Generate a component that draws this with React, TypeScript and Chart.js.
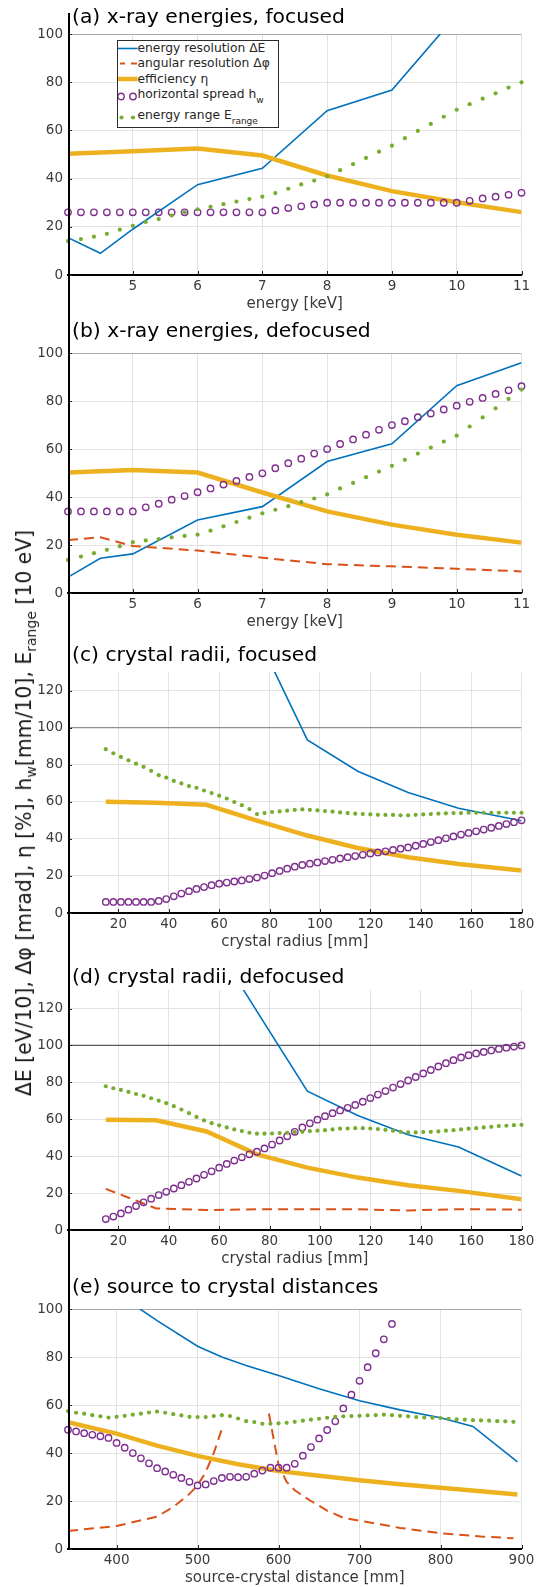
import React, { useEffect, useRef } from 'react';
import { Chart, registerables } from 'chart.js';

Chart.register(...registerables);

const FONT = "'DejaVu Sans', 'Liberation Sans', sans-serif";
const C_BLUE = '#0072BD';
const C_RED = '#D95319';
const C_YEL = '#EDB120';
const C_PUR = '#7E2F8E';
const C_GRN = '#77AC30';
const GRID = '#e2e2e2';
const TICK = '#3a3a3a';

// ---------- x positions ----------
const xEnergyLine = [4, 4.5, 5, 6, 7, 8, 9, 10, 11];
const xEnergyPts = [4, 4.2, 4.4, 4.6, 4.8, 5, 5.2, 5.4, 5.6, 5.8, 6, 6.2, 6.4, 6.6, 6.8, 7, 7.2, 7.4, 7.6, 7.8, 8, 8.2, 8.4, 8.6, 8.8, 9, 9.2, 9.4, 9.6, 9.8, 10, 10.2, 10.4, 10.6, 10.8, 11];
const xRadiusLine = [15, 35, 55, 75, 95, 115, 135, 155, 180];
const xRadiusPts = [15, 18, 21, 24, 27, 30, 33, 36, 39, 42, 45, 48, 51, 54, 57, 60, 63, 66, 69, 72, 75, 78, 81, 84, 87, 90, 93, 96, 99, 102, 105, 108, 111, 114, 117, 120, 123, 126, 129, 132, 135, 138, 141, 144, 147, 150, 153, 156, 159, 162, 165, 168, 171, 174, 177, 180];
const xDistBlue = [340, 400, 430, 450, 500, 530, 560, 600, 650, 700, 750, 800, 840, 895];
const xDistYel = [340, 400, 450, 500, 550, 600, 650, 700, 750, 800, 850, 895];
const xDistRed = [340, 400, 450, 470, 490, 500, 510, 520, 530, 560, 588, 600, 610, 620, 640, 660, 680, 700, 750, 800, 850, 890];
const xDistPur = [340, 350, 360, 370, 380, 390, 400, 410, 420, 430, 440, 450, 460, 470, 480, 490, 500, 510, 520, 530, 540, 550, 560, 570, 580, 590, 600, 610, 620, 630, 640, 650, 660, 670, 680, 690, 700, 710, 720, 730, 740];
const xDistGrn = [340, 350, 360, 370, 380, 390, 400, 410, 420, 430, 440, 450, 460, 470, 480, 490, 500, 510, 520, 530, 540, 550, 560, 570, 580, 590, 600, 610, 620, 630, 640, 650, 660, 670, 680, 690, 700, 710, 720, 730, 740, 750, 760, 770, 780, 790, 800, 810, 820, 830, 840, 850, 860, 870, 880, 890];

// ---------- tick labels ----------
const ticksEnergy = [5, 6, 7, 8, 9, 10, 11];
const ticksRadius = [20, 40, 60, 80, 100, 120, 140, 160, 180];
const ticksDist = [400, 500, 600, 700, 800, 900];
const ticksY100 = [0, 20, 40, 60, 80, 100];
const ticksY130 = [0, 20, 40, 60, 80, 100, 120];

// ---------- (a) x-ray energies, focused ----------
const aBlue = [15.5, 9, 19, 37.5, 44.3, 68.2, 76.8, 108, 140];
const aYel = [50.3, 50.8, 51.4, 52.5, 49.6, 41.3, 34.8, 30.2, 26.1];
const aPur = [26, 26, 26, 26, 26, 26, 26, 26, 26, 26, 26, 26, 26, 26, 26, 26, 26.8, 27.8, 28.5, 29.3, 30, 30, 30, 30, 30, 30, 30, 30, 30, 30, 30, 30.8, 31.8, 32.5, 33.3, 34.1];
const aGrn = [14.1, 14.9, 15.9, 17.1, 18.8, 20.4, 22, 23.2, 24.7, 26, 27.3, 28.3, 29.4, 30.5, 31.5, 32.5, 34, 35.8, 37.6, 39.2, 41, 43.5, 46, 48.6, 51.2, 53.7, 56.8, 59.8, 62.7, 65.7, 68.6, 70.9, 73.2, 75.4, 77.8, 80];

// ---------- (b) x-ray energies, defocused ----------
const bBlue = [6.6, 14.5, 16.3, 30.4, 36, 54.8, 62.2, 86.4, 96];
const bRed = [22.1, 23.2, 19.6, 17.7, 14.7, 12, 11.1, 10.1, 9];
const bYel = [50.2, 50.7, 51.3, 50.2, 41.9, 34, 28.5, 24.3, 21];
const bPur = [34, 34, 34, 34, 34, 34, 35.7, 37.2, 38.9, 40.4, 42, 43.6, 45.2, 46.7, 48.4, 49.9, 52, 54.1, 56, 58.1, 60, 62.1, 64, 66, 68, 70, 71.6, 73.3, 74.8, 76.5, 78.1, 79.7, 81.3, 83, 84.5, 86.2];
const bGrn = [13.8, 15.2, 16.6, 18, 19.5, 21.2, 21.9, 22.5, 23.2, 23.8, 24.3, 26, 27.8, 29.6, 31.4, 33.2, 34.7, 36.2, 37.9, 39.4, 41.1, 43.6, 45.9, 48.3, 50.6, 53, 55.5, 58.1, 60.6, 63.1, 65.6, 69.4, 73.2, 77, 80.9, 84.8];

// ---------- (c) crystal radii, focused ----------
const cBlue = [900, 450, 260, 150, 93.4, 76.5, 65, 56.5, 49.8];
const cYel = [60, 59.5, 58.4, 49.8, 41.8, 35.1, 30.1, 26.5, 22.9];
const cPur = [6, 6, 6, 6, 6, 6, 6, 6.5, 7.5, 9, 10.5, 11.8, 13, 14, 15, 15.8, 16.4, 17, 17.6, 18.3, 19.1, 20.2, 21.5, 22.7, 23.9, 25, 25.9, 26.6, 27.3, 28, 28.7, 29.4, 30.1, 30.7, 31.4, 32.1, 32.7, 33.3, 34, 34.7, 35.4, 36.3, 37.3, 38.3, 39.3, 40.3, 41.3, 42.3, 43.2, 44.1, 45, 46, 47, 48, 49, 50];
const cGrn = [88.4, 86.2, 84.2, 82.4, 80.6, 78.9, 76.7, 74.4, 73.1, 71.3, 69.9, 68.5, 67.6, 66.1, 64.7, 63.3, 61.8, 59.9, 58.2, 56.1, 53.4, 53.9, 54.5, 54.8, 55.2, 55.6, 55.9, 55.7, 55.4, 55.0, 54.7, 54.3, 53.9, 53.6, 53.4, 53.2, 53.0, 52.9, 52.9, 52.7, 52.7, 53.0, 53.2, 53.4, 53.6, 53.8, 53.9, 53.9, 54.1, 54.1, 54.1, 54.1, 54.1, 54.1, 54.1, 54.1];

// ---------- (d) crystal radii, defocused ----------
const dBlue = [500, 260, 162, 118.5, 75.2, 62, 51.6, 45, 29.3];
const dRed = [22.3, 11.7, 10.8, 11.2, 11.2, 11.2, 10.6, 11.3, 11];
const dYel = [59.7, 59.5, 53.4, 41, 33.8, 28.4, 24.3, 21.2, 16.7];
const dPur = [5.9, 7.3, 9, 11, 13, 15, 17, 18.9, 20.7, 22.5, 24.3, 26.1, 27.9, 29.9, 31.8, 33.8, 35.8, 37.6, 39.4, 41, 42.4, 44.2, 46.3, 48.5, 50.8, 53.2, 55.6, 57.8, 59.8, 61.7, 63.3, 64.8, 66.2, 67.8, 69.5, 71.5, 73.4, 75.3, 77.2, 79.1, 81, 82.9, 84.8, 86.7, 88.6, 90.4, 92, 93.5, 94.7, 95.7, 96.5, 97.3, 98.1, 98.8, 99.4, 100];
const dGrn = [77.9, 76.8, 75.9, 74.8, 73.7, 72.7, 71.4, 70.1, 68.7, 67.1, 65.3, 63.3, 61.3, 59.4, 57.9, 56.7, 55.6, 54.5, 53.6, 52.7, 52.2, 52.2, 52.3, 52.5, 52.7, 53.1, 53.2, 53.6, 53.8, 54.1, 54.5, 54.9, 55, 55.2, 55.2, 55, 54.7, 54.3, 53.8, 53.2, 52.9, 52.9, 53.1, 53.2, 53.4, 53.8, 54.1, 54.5, 54.9, 55.2, 55.6, 55.9, 56.3, 56.5, 56.8, 57];

// ---------- (e) source to crystal distances ----------
const eBlue = [125, 108, 99.8, 95.2, 84.5, 80, 76.5, 72.3, 66.8, 61.8, 58, 54.7, 51.1, 36.3];
const eYel = [52.9, 48.1, 43.1, 38.8, 35.3, 32.5, 30.5, 28.7, 27, 25.5, 24.1, 22.7];
const eRed = [7.5, 9.6, 13.5, 17.5, 23, 26.5, 32, 40, 50, null, 56.5, 35, 28, 24.5, 20, 16, 13, 11.8, 8.8, 6.6, 5.2, 4.5];
const ePur = [49.7, 49.0, 48.3, 47.6, 47.0, 46.3, 44.2, 42.2, 40.0, 37.8, 35.7, 33.7, 32.3, 30.9, 29.6, 28.0, 26.5, 26.9, 28.3, 29.6, 30.1, 29.9, 30.1, 31.4, 32.7, 33.9, 33.9, 33.9, 35.5, 38.9, 42.5, 46.1, 49.6, 53.2, 58.6, 64.3, 70.1, 75.8, 81.6, 87.4, 93.8];
const eGrn = [57.5, 56.8, 56.4, 55.8, 55.3, 54.8, 55.1, 55.5, 56.0, 56.4, 56.9, 57.3, 56.8, 56.2, 55.7, 55.1, 55.0, 55.0, 55.4, 55.8, 55.4, 54.4, 53.3, 52.9, 52.2, 52.2, 52.4, 52.6, 53.0, 53.5, 53.9, 54.3, 54.7, 55.1, 55.3, 55.4, 55.5, 55.7, 55.8, 56.0, 55.8, 55.5, 55.3, 55.0, 54.8, 54.7, 54.6, 54.3, 54.0, 53.9, 53.7, 53.6, 53.5, 53.3, 53.2, 53.0];

// ---------- helpers ----------
const pts = (xs: number[], ys: (number | null)[]) => xs.map((x, i) => ({ x, y: ys[i] }));

const lineDs = (xs: number[], ys: (number | null)[], color: string, width: number, dash: number[] = []) => ({
  data: pts(xs, ys),
  showLine: true,
  borderColor: color,
  backgroundColor: color,
  borderWidth: width,
  borderDash: dash,
  pointRadius: 0,
  spanGaps: false,
  clip: 0,
});

const circleDs = (xs: number[], ys: number[]) => ({
  data: pts(xs, ys),
  showLine: false,
  pointStyle: 'circle',
  pointRadius: 3.2,
  pointBorderWidth: 1.4,
  pointBorderColor: C_PUR,
  pointBackgroundColor: 'rgba(0,0,0,0)',
  clip: false,
});

const dotDs = (xs: number[], ys: number[]) => ({
  data: pts(xs, ys),
  showLine: false,
  pointStyle: 'circle',
  pointRadius: 2.1,
  pointBorderWidth: 0,
  pointBackgroundColor: C_GRN,
  clip: false,
});

const refDs = (x0: number, x1: number, color: string) => ({
  data: [{ x: x0, y: 100 }, { x: x1, y: 100 }],
  showLine: true,
  borderColor: color,
  borderWidth: 1.3,
  pointRadius: 0,
  clip: 0,
});

type Spec = {
  title: string;
  xTitle: string;
  top: number;
  bottom: number;
  titleY: number;
  xMin: number;
  xMax: number;
  xTicks: number[];
  yMax: number;
  yTicks: number[];
  datasets: any[];
};

const PAD_TOP = 12;
const X_H = 38;
const PLOT_LEFT = 68;
const PLOT_RIGHT = 521.5;
const W = 546;
const DASH = [10, 6];

const specs: Spec[] = [
  {
    title: '(a) x-ray energies, focused', xTitle: 'energy [keV]', top: 33, bottom: 275, titleY: 17,
    xMin: 4, xMax: 11, xTicks: ticksEnergy, yMax: 100, yTicks: ticksY100,
    datasets: [
      dotDs(xEnergyPts, aGrn),
      circleDs(xEnergyPts, aPur),
      lineDs(xEnergyLine, aYel, C_YEL, 4.5),
      lineDs(xEnergyLine, aBlue, C_BLUE, 1.6),
      refDs(4, 11, '#9a9a9a'),
    ],
  },
  {
    title: '(b) x-ray energies, defocused', xTitle: 'energy [keV]', top: 352, bottom: 593, titleY: 330.7,
    xMin: 4, xMax: 11, xTicks: ticksEnergy, yMax: 100, yTicks: ticksY100,
    datasets: [
      dotDs(xEnergyPts, bGrn),
      circleDs(xEnergyPts, bPur),
      lineDs(xEnergyLine, bYel, C_YEL, 4.5),
      lineDs(xEnergyLine, bRed, C_RED, 2, DASH),
      lineDs(xEnergyLine, bBlue, C_BLUE, 1.6),
      refDs(4, 11, '#9a9a9a'),
    ],
  },
  {
    title: '(c) crystal radii, focused', xTitle: 'crystal radius [mm]', top: 671, bottom: 913, titleY: 655,
    xMin: 0, xMax: 180, xTicks: ticksRadius, yMax: 130, yTicks: ticksY130,
    datasets: [
      dotDs(xRadiusPts, cGrn),
      circleDs(xRadiusPts, cPur),
      lineDs(xRadiusLine, cYel, C_YEL, 4.5),
      lineDs(xRadiusLine, cBlue, C_BLUE, 1.6),
      refDs(0, 180, '#8f8f8f'),
    ],
  },
  {
    title: '(d) crystal radii, defocused', xTitle: 'crystal radius [mm]', top: 989, bottom: 1230, titleY: 977,
    xMin: 0, xMax: 180, xTicks: ticksRadius, yMax: 130, yTicks: ticksY130,
    datasets: [
      dotDs(xRadiusPts, dGrn),
      circleDs(xRadiusPts, dPur),
      lineDs(xRadiusLine, dYel, C_YEL, 4.5),
      lineDs(xRadiusLine, dRed, C_RED, 2, DASH),
      lineDs(xRadiusLine, dBlue, C_BLUE, 1.6),
      refDs(0, 180, '#5a5a5a'),
    ],
  },
  {
    title: '(e) source to crystal distances', xTitle: 'source-crystal distance [mm]', top: 1308, bottom: 1549, titleY: 1286.7,
    xMin: 340, xMax: 900, xTicks: ticksDist, yMax: 100, yTicks: ticksY100,
    datasets: [
      dotDs(xDistGrn, eGrn),
      circleDs(xDistPur, ePur),
      lineDs(xDistYel, eYel, C_YEL, 4.5),
      lineDs(xDistRed, eRed, C_RED, 2, DASH),
      lineDs(xDistBlue, eBlue, C_BLUE, 1.6),
      refDs(340, 900, '#9a9a9a'),
    ],
  },
];

const inwardTicks = {
  id: 'inwardTicks',
  afterDatasetsDraw(chart: any) {
    const { ctx, chartArea, scales } = chart;
    ctx.save();
    ctx.strokeStyle = '#262626';
    ctx.lineWidth = 1;
    scales.x.ticks.forEach((t: any) => {
      const px = Math.round(scales.x.getPixelForValue(t.value)) + 0.5;
      ctx.beginPath();
      ctx.moveTo(px, chartArea.bottom);
      ctx.lineTo(px, chartArea.bottom - 4);
      ctx.stroke();
    });
    scales.y.ticks.forEach((t: any) => {
      const py = Math.round(scales.y.getPixelForValue(t.value)) + 0.5;
      ctx.beginPath();
      ctx.moveTo(chartArea.left, py);
      ctx.lineTo(chartArea.left + 4, py);
      ctx.stroke();
    });
    ctx.restore();
  },
};

function Panel({ spec }: { spec: Spec }) {
  const ref = useRef<HTMLCanvasElement>(null);
  const h = spec.bottom - spec.top + PAD_TOP + X_H;
  useEffect(() => {
    const canvas = ref.current!;
    const chart = new Chart(canvas, {
      type: 'scatter',
      data: { datasets: spec.datasets },
      options: {
        responsive: false,
        animation: false,
        devicePixelRatio: 1,
        events: [],
        layout: { padding: { top: PAD_TOP, left: 0, right: W - PLOT_RIGHT, bottom: 0 } },
        plugins: {
          legend: { display: false },
          tooltip: { enabled: false },
          title: { display: false },
        },
        scales: {
          x: {
            type: 'linear',
            min: spec.xMin,
            max: spec.xMax,
            afterBuildTicks: (s: any) => {
              s.ticks = spec.xTicks.map((v) => ({ value: v }));
            },
            afterFit: (s: any) => {
              s.height = X_H;
            },
            grid: { color: GRID, lineWidth: 1, drawTicks: false },
            border: { display: true, color: '#000', width: 2 },
            ticks: {
              padding: 3,
              color: TICK,
              autoSkip: false,
              maxRotation: 0,
              font: { family: FONT, size: 13.5 },
              callback: (v: any) => String(v),
            },
            title: {
              display: true,
              text: spec.xTitle,
              color: TICK,
              font: { family: FONT, size: 15 },
              padding: { top: 0, bottom: 0 },
            },
          },
          y: {
            type: 'linear',
            min: 0,
            max: spec.yMax,
            afterBuildTicks: (s: any) => {
              s.ticks = spec.yTicks.map((v) => ({ value: v }));
            },
            afterFit: (s: any) => {
              s.width = PLOT_LEFT;
            },
            grid: { color: GRID, lineWidth: 1, drawTicks: false },
            border: { display: false },
            ticks: {
              padding: 5,
              color: TICK,
              autoSkip: false,
              font: { family: FONT, size: 13.5 },
              callback: (v: any) => String(v),
            },
          },
        },
      } as any,
      plugins: [inwardTicks as any],
    });
    return () => chart.destroy();
  }, []);
  return (
    <canvas
      ref={ref}
      width={W}
      height={h}
      style={{ position: 'absolute', left: 0, top: spec.top - PAD_TOP, width: W, height: h }}
    />
  );
}

function Legend() {
  const rowText: React.CSSProperties = {
    position: 'absolute',
    left: 20,
    fontFamily: FONT,
    fontSize: 12.3,
    lineHeight: '15px',
    color: '#262626',
    whiteSpace: 'nowrap',
  };
  const sub: React.CSSProperties = { fontSize: 9, position: 'relative', top: 5 };
  return (
    <div
      style={{
        position: 'absolute',
        left: 116.5,
        top: 40,
        width: 162.5,
        height: 88,
        boxSizing: 'border-box',
        border: '1px solid #2b2b2b',
        background: '#fff',
        zIndex: 5,
      }}
    >
      <svg width={22} height={86} style={{ position: 'absolute', left: 0, top: 0 }}>
        <line x1={0} y1={7.5} x2={19.5} y2={7.5} stroke={C_BLUE} strokeWidth={1.6} />
        <line x1={2} y1={22.5} x2={7} y2={22.5} stroke={C_RED} strokeWidth={2} />
        <line x1={13} y1={22.5} x2={19} y2={22.5} stroke={C_RED} strokeWidth={2} />
        <line x1={0} y1={38} x2={19.5} y2={38} stroke={C_YEL} strokeWidth={4.5} />
        <circle cx={3} cy={55.5} r={3.2} fill="none" stroke={C_PUR} strokeWidth={1.4} />
        <circle cx={15} cy={55.5} r={3.2} fill="none" stroke={C_PUR} strokeWidth={1.4} />
        <circle cx={3.5} cy={76.5} r={2.1} fill={C_GRN} />
        <circle cx={15} cy={76.5} r={2.1} fill={C_GRN} />
      </svg>
      <div style={{ ...rowText, top: 0 }}>energy resolution ΔE</div>
      <div style={{ ...rowText, top: 15 }}>angular resolution Δφ</div>
      <div style={{ ...rowText, top: 31 }}>efficiency η</div>
      <div style={{ ...rowText, top: 46 }}>
        horizontal spread h<span style={sub}>w</span>
      </div>
      <div style={{ ...rowText, top: 67 }}>
        energy range E<span style={sub}>range</span>
      </div>
    </div>
  );
}

export default function App() {
  return (
    <div
      style={{
        position: 'absolute',
        left: 0,
        top: 0,
        width: W,
        height: 1587,
        background: '#fff',
        overflow: 'hidden',
      }}
    >
      {specs.map((s, i) => (
        <Panel key={i} spec={s} />
      ))}
      {specs.map((s, i) => (
        <div
          key={'t' + i}
          style={{
            position: 'absolute',
            left: 72,
            top: s.titleY - 12.8,
            fontFamily: FONT,
            fontSize: 20.3,
            lineHeight: '24px',
            color: '#000',
            whiteSpace: 'nowrap',
          }}
        >
          {s.title}
        </div>
      ))}
      <div
        style={{
          position: 'absolute',
          left: PLOT_LEFT,
          top: 13,
          width: 2,
          height: 1549 - 13 + 1,
          background: '#000',
          zIndex: 4,
        }}
      />
      <Legend />
      <div
        style={{
          position: 'absolute',
          left: 25,
          top: 813,
          transform: 'translate(-50%, -50%) rotate(-90deg)',
          fontFamily: FONT,
          fontSize: 20.4,
          lineHeight: '24px',
          color: '#1a1a1a',
          whiteSpace: 'nowrap',
        }}
      >
        ΔE [eV/10], Δφ [mrad], η [%], h<span style={{ fontSize: 14, position: 'relative', top: 5 }}>w</span>[mm/10], E
        <span style={{ fontSize: 14, position: 'relative', top: 5 }}>range</span> [10 eV]
      </div>
    </div>
  );
}
